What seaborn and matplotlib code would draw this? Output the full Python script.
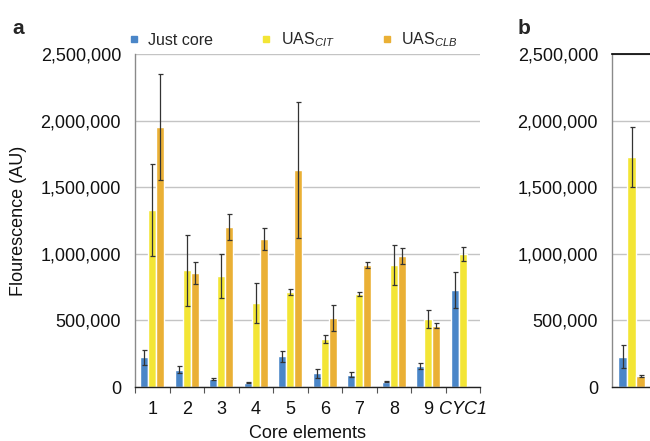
import numpy as np
import pandas as pd
import seaborn as sns
import matplotlib.pyplot as plt
from matplotlib.lines import Line2D
from matplotlib.ticker import FuncFormatter, FixedLocator

# data
categories = ["1", "2", "3", "4", "5", "6", "7", "8", "9", "CYC1"]
series = ["Just core", "UAS_CIT", "UAS_CLB"]
just_core = [223000, 130000, 60000, 32000, 230000, 103000, 93000, 40000, 155000, 728000]
just_core_err = [55000, 27000, 5000, 3000, 40000, 35000, 17000, 5000, 23000, 135000]
uas_cit = [1329000, 876000, 833000, 631000, 713000, 360000, 696000, 916000, 513000, 998000]
uas_cit_err = [345000, 265000, 165000, 150000, 20000, 28000, 15000, 150000, 67000, 55000]
uas_clb = [1952000, 856000, 1201000, 1111000, 1629000, 516000, 916000, 983000, 460000, np.nan]
uas_clb_err = [395000, 80000, 100000, 85000, 510000, 97000, 20000, 63000, 18000, np.nan]

# panel b
b_categories = ["b1"]
b_values = [228000, 1727000, 83000]
b_err = [87000, 223000, 5000]

colors = ["#4a86c8", "#f3e535", "#eab035"]
labels = ["Just core", r"UAS$_{CIT}$", r"UAS$_{CLB}$"]

sns.set_theme(style="white")
plt.rcParams["font.family"] = ["Liberation Sans", "DejaVu Sans"]
plt.rcParams["mathtext.fontset"] = "custom"
plt.rcParams["mathtext.rm"] = "Liberation Sans"
plt.rcParams["mathtext.it"] = "Liberation Sans:italic"
plt.rcParams["mathtext.default"] = "it"

df = pd.DataFrame({
    "cat": np.repeat(categories, 3),
    "series": series * len(categories),
    "value": np.ravel(np.column_stack([just_core, uas_cit, uas_clb])),
    "err": np.ravel(np.column_stack([just_core_err, uas_cit_err, uas_clb_err])),
})
dfb = pd.DataFrame({
    "cat": b_categories * 3,
    "series": series,
    "value": b_values,
    "err": b_err,
})

fig = plt.figure(figsize=(6.5, 4.41), dpi=100)
H = 441.0
W = 650.0
bottom = 1 - 387 / H
height = (387 - 54) / H
ax = fig.add_axes([135 / W, bottom, 345 / W, height])
axb = fig.add_axes([612 / W, bottom, 103.5 / W, height])


def style_axis(a, top_black=False):
    a.set_ylim(0, 2500000)
    a.yaxis.set_major_locator(FixedLocator(np.arange(0, 2500001, 500000)))
    a.yaxis.set_major_formatter(FuncFormatter(lambda v, p: "{:,.0f}".format(v)))
    a.grid(axis="y", color="#c4c4c4", linewidth=1.0)
    a.set_axisbelow(True)
    a.spines["right"].set_visible(False)
    a.spines["top"].set_visible(top_black)
    a.spines["top"].set_color("black")
    a.spines["top"].set_linewidth(1.2)
    a.spines["left"].set_color("#8a8a8a")
    a.spines["left"].set_linewidth(1.0)
    a.spines["bottom"].set_color("#222222")
    a.spines["bottom"].set_linewidth(1.0)
    a.tick_params(axis="y", length=0, pad=10, labelsize=13, labelcolor="#111111")
    a.set_xlabel("")
    a.set_ylabel("")


def add_errors(a, data):
    for cont, s in zip(a.containers, series):
        sub = data[data["series"] == s].reset_index(drop=True)
        for bar in cont:
            xc = bar.get_x() + bar.get_width() / 2
            i = int(round(xc))
            v = sub.loc[i, "value"]
            e = sub.loc[i, "err"]
            if np.isnan(v):
                continue
            a.errorbar(xc, v, yerr=e, color="#333333", elinewidth=0.9,
                       capsize=1.8, capthick=0.9, fmt="none", zorder=5)


sns.barplot(data=df, x="cat", y="value", hue="series", palette=colors,
            width=0.7, saturation=1, ax=ax, legend=False)
add_errors(ax, df)
style_axis(ax)
ax.set_xlim(-0.5, 9.5)
ax.set_xticks(range(len(categories)))
ax.set_xticklabels(categories)
ax.get_xticklabels()[-1].set_fontstyle("italic")
ax.set_xticks(np.arange(-0.5, 10, 1), minor=True)
ax.tick_params(axis="x", which="major", length=0, pad=10, labelsize=13, labelcolor="#111111")
ax.tick_params(axis="x", which="minor", length=4, width=0.8, color="#555555", direction="out", bottom=True)
ax.set_xlabel("Core elements", fontsize=13, labelpad=5, color="#111111")
ax.set_ylabel("Flourescence (AU)", fontsize=13, labelpad=10, color="#111111")

sns.barplot(data=dfb, x="cat", y="value", hue="series", palette=colors,
            width=0.78, saturation=1, ax=axb, legend=False)
add_errors(axb, dfb)
style_axis(axb, top_black=True)
axb.set_xlim(-0.57, 2.43)
axb.set_xticks([])

handles = [Line2D([], [], marker="s", linestyle="none", markersize=4.5,
                  markerfacecolor=c, markeredgecolor=c) for c in colors]
ax.legend(handles, labels, loc="lower left", bbox_to_anchor=(-0.035, 0.995),
          ncol=3, frameon=False, fontsize=11.5, handlelength=0.6,
          handletextpad=0.6, columnspacing=3.0, borderaxespad=0)

fig.text(12 / W, 1 - 28 / H, "a", fontsize=15, fontweight="bold", va="center")
fig.text(518 / W, 1 - 28 / H, "b", fontsize=15, fontweight="bold", va="center")

fig.savefig("out.png", dpi=100)
